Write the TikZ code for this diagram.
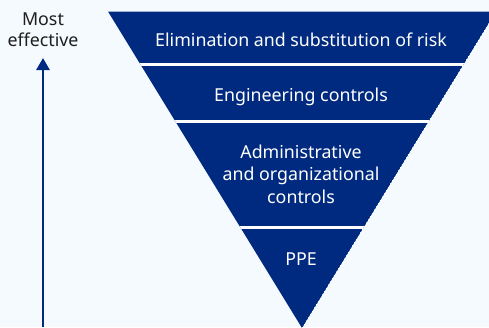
\documentclass[tikz,border=0pt]{standalone}
\usepackage{fontspec}
\setmainfont{Noto Sans}
\usetikzlibrary{arrows.meta}
\definecolor{navy}{RGB}{0,42,127}
\definecolor{paper}{RGB}{245,250,254}
\definecolor{ink}{RGB}{30,30,30}
\begin{document}
\begin{tikzpicture}[x=1pt,y=-1pt,
  bandtext/.style={text=white,font=\fontsize{17.8}{22.7}\selectfont,align=center,inner sep=0pt,anchor=base},
  sidetext/.style={text=ink,font=\fontsize{17.8}{21.7}\selectfont,align=center,inner sep=0pt,anchor=base},
  gapline/.style={white,line width=2.6pt}]
  % page
  \fill[paper] (0,0) rectangle (489,327);
  \useasboundingbox (0,0) rectangle (489,327);

  % inverted triangle split into four bands
  \coordinate (tl) at (108,11.5);
  \coordinate (tr) at (496,11.5);
  \coordinate (apex) at (302,328);
  \begin{scope}
    \clip (tl) -- (tr) -- (apex) -- cycle;
    \fill[navy] (tl) -- (tr) -- (apex) -- cycle;
    \draw[gapline] (100,64.5) -- (500,64.5);
    \draw[gapline] (100,121.5) -- (500,121.5);
    \draw[gapline] (100,227.5) -- (500,227.5);
  \end{scope}

  % band labels (base anchor sits on the last line's baseline)
  \node[bandtext] (elim) at (301,46.7) {Elimination and substitution of risk};
  \node[bandtext] (eng) at (301,101.5) {Engineering controls};
  \node[bandtext] (admin) at (301,203.5) {Administrative\\and organizational\\controls};
  \node[bandtext] (ppe) at (301,265) {PPE};

  % effectiveness arrow
  \node[sidetext] (most) at (43,46.7) {Most\\effective};
  \coordinate (base) at (43,327);
  \coordinate (tip) at (43,58);
  \draw[navy,line width=2.7pt,-{Triangle[width=13pt,length=12pt]}] (base) -- (tip);
\end{tikzpicture}
\end{document}
